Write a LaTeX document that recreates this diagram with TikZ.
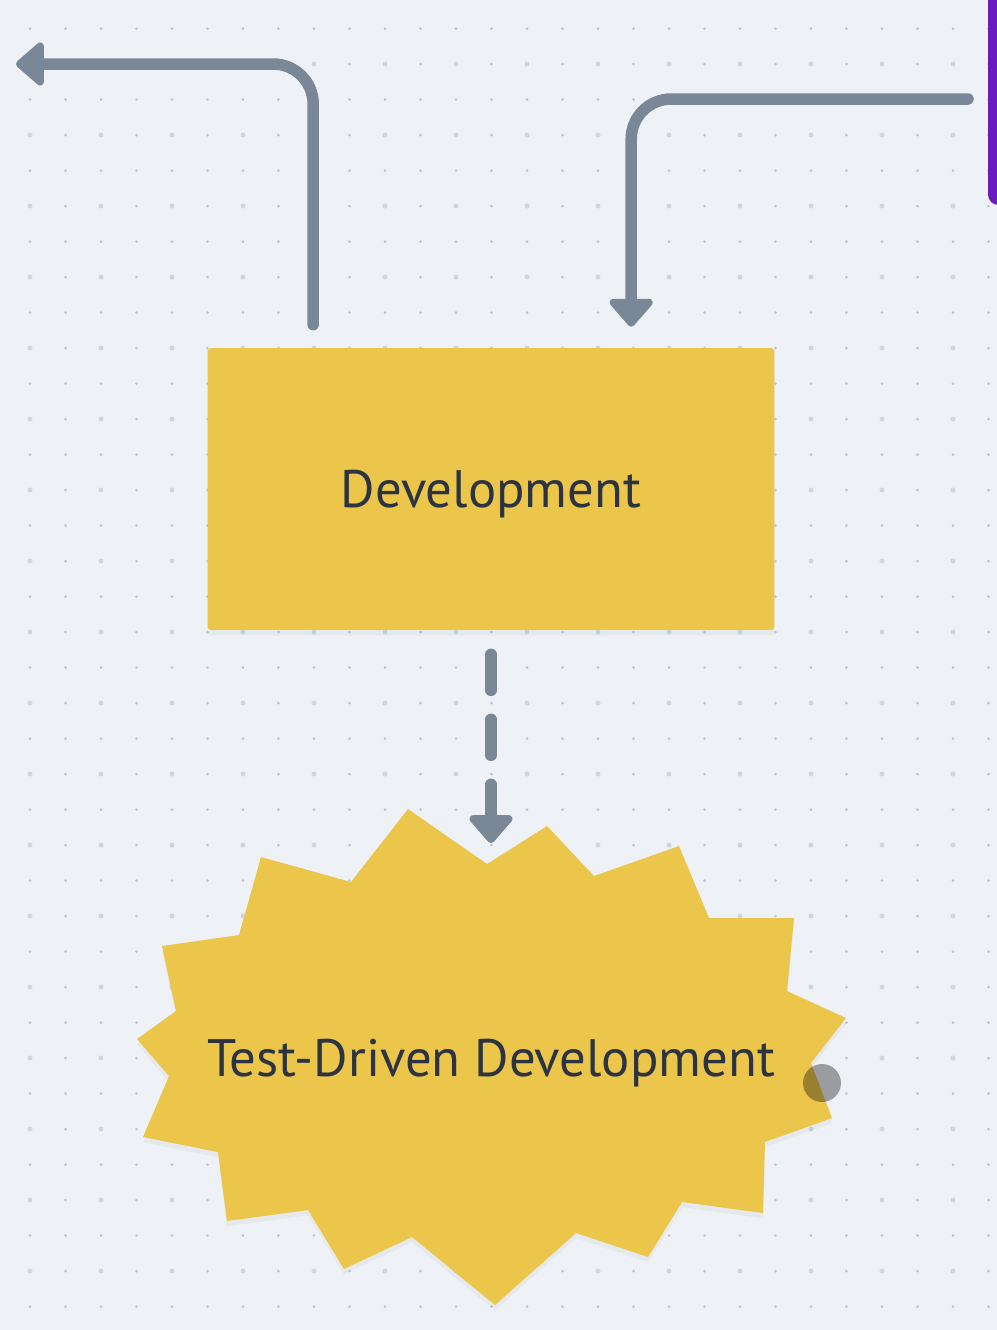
\documentclass[tikz,border=0pt]{standalone}
\usepackage{fontspec}
\setmainfont{PT Sans}
\usetikzlibrary{arrows.meta,calc,shadows}

\definecolor{canvas}{HTML}{EEF2F6}
\definecolor{wire}{HTML}{7A8796}
\definecolor{sun}{HTML}{ECC54B}
\definecolor{ink}{HTML}{2B3440}
\definecolor{grape}{HTML}{6A1BBD}
\definecolor{dotsmall}{HTML}{BCC4CF}
\definecolor{dotbig}{HTML}{CDD5DF}

\begin{document}
\begin{tikzpicture}[x=0.02cm,y=-0.02cm,
  flow/.style={draw=wire,line width=0.23cm,line cap=round,rounded corners=0.8cm,
    -{Triangle[length=0.6cm,width=1.0cm,round]}},
  main node/.style={rectangle,fill=sun,rounded corners=2pt,minimum width=11.34cm,
    minimum height=5.64cm,inner sep=0pt,
    drop shadow={opacity=0.08,shadow xshift=0pt,shadow yshift=-3pt}},
  word/.style={font=\fontsize{30}{30}\selectfont,text=ink,text height=21pt,text depth=0pt}]

\useasboundingbox (0,0) rectangle (997,1330);
\clip (0,0) rectangle (997,1330);
\fill[canvas] (0,0) rectangle (997,1330);

% dotted canvas
\foreach \i in {0,...,27}
  \foreach \j in {0,...,37}{
    \pgfmathsetmacro{\big}{int(mod(\j,2)==1 && mod(\i,2)==0)}
    \ifnum\big=1
      \fill[dotbig] ({30+35.5*\i},{28.5+35.5*\j}) circle (0.05cm);
    \else
      \fill[dotsmall] ({30+35.5*\i},{28.5+35.5*\j}) circle (0.03cm);
    \fi
  }

\fill[grape,rounded corners=6pt] (988,-20) rectangle (1010,205);

\node[main node,word](dev) at (491,489) {Development};

\fill[sun,drop shadow={opacity=0.08,shadow xshift=0pt,shadow yshift=-3pt}]
  (408,809) -- (487,864) -- (547,826) -- (594,876) -- (679,846) -- (709,918)
  -- (794,918) -- (787,991) -- (846,1018) -- (811,1063) -- (832,1118)
  -- (765,1142) -- (763,1213) -- (682,1202) -- (648,1257) -- (576,1233)
  -- (495,1305) -- (412,1237) -- (344,1269) -- (308,1210) -- (227,1221)
  -- (218,1152) -- (143,1137) -- (169,1076) -- (137,1039) -- (176,1011)
  -- (162,946) -- (239,935) -- (261,857) -- (351,882) -- cycle;
\node[word,inner sep=0pt](tdd) at (491,1058) {Test-Driven Development};

\coordinate (out1) at (16,64);
\coordinate (in2) at (968,99);
\coordinate (tddtip) at (491,843);

\draw[flow,shorten <=0.46cm] ($(dev.north west)+(106,0)$) |- (out1);
\draw[flow,shorten >=0.42cm] (in2) -| ($(dev.north west)+(424,0)$);
\draw[flow,dash pattern=on 0.72cm off 0.58cm,shorten <=0.48cm] (dev.south) -- (tddtip);

\fill[black,opacity=0.35] (822,1083) circle (0.38cm);

\end{tikzpicture}
\end{document}
